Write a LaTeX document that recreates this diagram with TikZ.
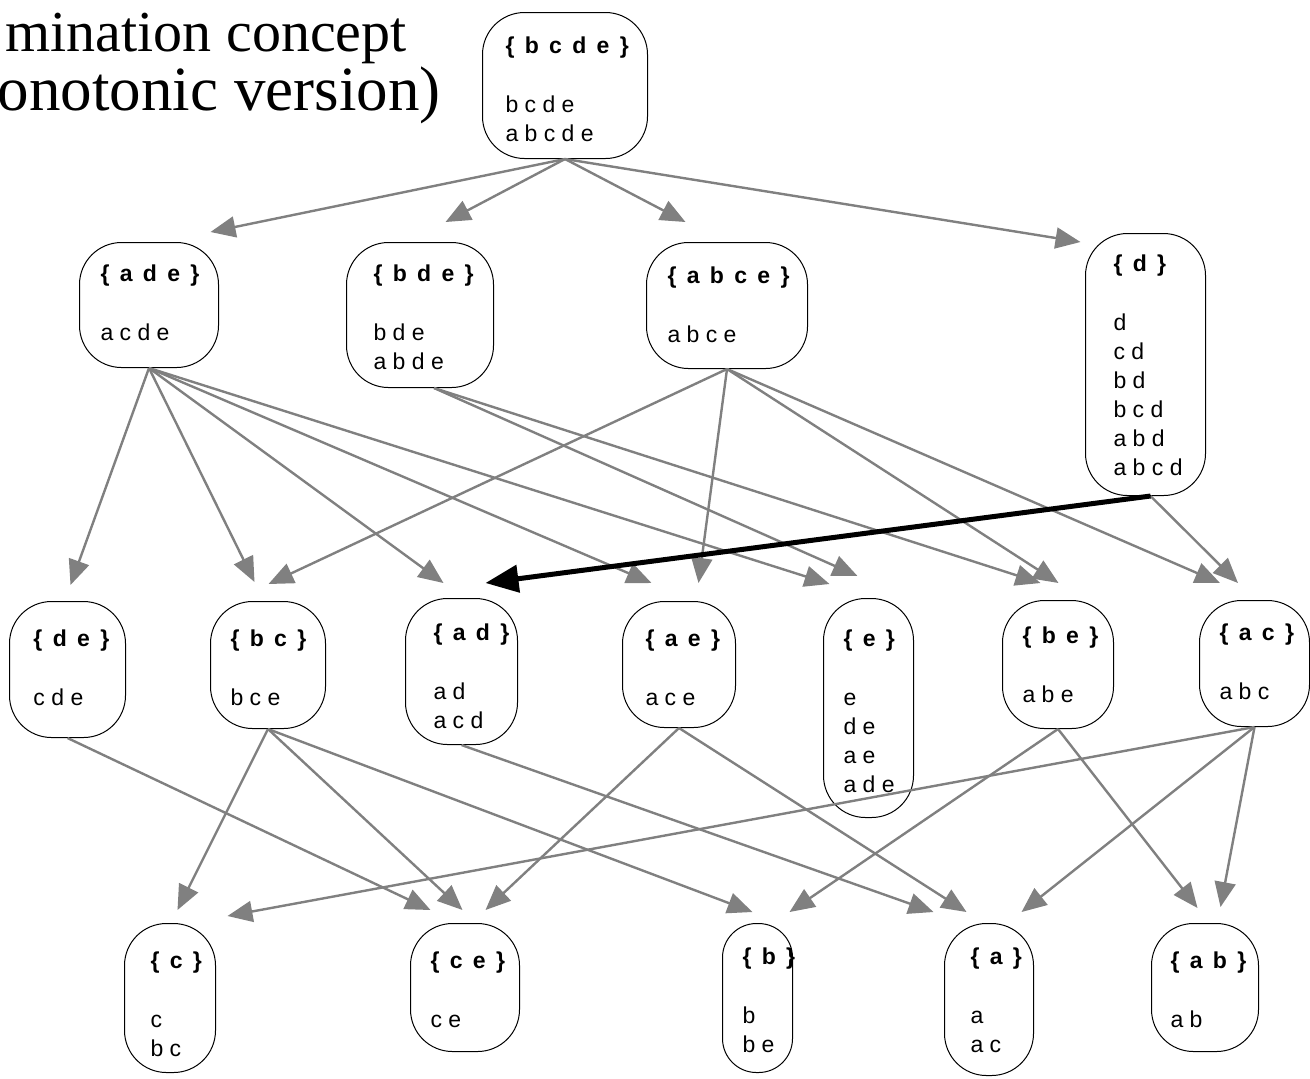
\documentclass[tikz,border=0pt]{standalone}
\usepackage{fontspec}
\setmainfont{Liberation Serif}
\newfontfamily\cptfont{Liberation Sans}
\usetikzlibrary{arrows.meta,calc}

% one pixel of the drawing grid
\newlength\px
\setlength\px{0.5pt}

% concept box body: width, height, title baseline, left pad, title, members
\newcommand\cpt[6]{%
  \parbox[c][#2\px][t]{#1\px}{%
    \setlength\leftskip{#4\px}\setlength\rightskip{-100pt plus 1fil}%
    \setlength\parindent{0pt}\setlength\parskip{0pt}%
    \lineskiplimit=-100pt
    \rule{0pt}{#3\px}\mbox{\bfseries\spaceskip=0.45em\relax\{ #5 \}}\par
    \vspace{30\px}%
    #6\par}}

\tikzset{
  concept/.style={draw=black, line width=0.5pt, rounded corners=21pt,
    inner sep=0pt, anchor=north west,
    font=\cptfont\fontsize{11.5pt}{14.5pt}\selectfont},
  narrow/.style={rounded corners=17pt},
  link/.style={draw=gray, line width=1.2pt, -{Triangle[length=12.5pt,width=10.5pt]}},
  strong/.style={draw=black, line width=2.5pt, -{Triangle[length=16.5pt,width=13.5pt]}},
  heading/.style={inner sep=0pt, anchor=base east, align=right,
    font=\fontsize{31.5pt}{27.5pt}\selectfont}
}

\begin{document}
\begin{tikzpicture}[x=0.5pt,y=-0.5pt]
\useasboundingbox (0,0) rectangle (1310,1078);

% heading, two lines (anchored at the baseline of the second line)
\node[heading] (head) at (441,110)
  {{\fontsize{29pt}{27.5pt}\selectfont mination concept}\hspace*{17pt}\\
   onotonic version)};

% top level
\node[concept] (bcde) at (482,12) {\cpt{165}{146}{41}{23}{b c d e}{b c d e\\a b c d e}};

% second level
\node[concept] (ade)  at (79,242)   {\cpt{139}{125}{39}{21}{a d e}{a c d e}};
\node[concept] (bde)  at (346,242)  {\cpt{147}{145}{39}{27}{b d e}{b d e\\a b d e}};
\node[concept] (abce) at (646,242)  {\cpt{161}{126}{41}{21}{a b c e}{a b c e}};
\node[concept] (d)    at (1085,233) {\cpt{120}{262}{38}{28}{d}{d\\c d\\b d\\b c d\\a b d\\a b c d}};

% third level
\node[concept] (de) at (9,601)    {\cpt{116}{136}{45}{24}{d e}{c d e}};
\node[concept] (bc) at (210,601)  {\cpt{115}{127}{45}{20}{b c}{b c e}};
\node[concept] (ad) at (405,598)  {\cpt{112}{146}{42}{28}{a d}{a d\\a c d}};
\node[concept] (ae) at (622,601)  {\cpt{113}{126}{45}{23}{a e}{a c e}};
\node[concept] (e)  at (823,598)  {\cpt{90}{219}{48}{20}{e}{e\\d e\\a e\\a d e}};
\node[concept] (be) at (1002,600) {\cpt{111}{128}{43}{20}{b e}{a b e}};
\node[concept] (ac) at (1199,600) {\cpt{110}{126}{40}{20}{a c}{a b c}};

% bottom level
\node[concept] (c)  at (124,923)  {\cpt{91}{149}{45}{26}{c}{c\\b c}};
\node[concept] (ce) at (410,923)  {\cpt{109}{128}{45}{20}{c e}{c e}};
\node[concept, narrow] (b) at (722,923) {\cpt{70}{149}{41}{20}{b}{b\\b e}};
\node[concept] (a)  at (944,923)  {\cpt{89}{152}{41}{26}{a}{a\\a c}};
\node[concept] (ab) at (1151,923) {\cpt{107}{128}{45}{19}{a b}{a b}};

% links from the top
\draw[link] (bcde.south) -- ($(ade.north)+(61.5,-10)$);
\draw[link] (bcde.south) -- ($(bde.north)+(25.5,-20)$);
\draw[link] (bcde.south) -- ($(abce.north)+(-41.5,-20)$);
\draw[link] (bcde.south) -- ($(d.north)+(-65,9)$);

% links from the second level
\draw[link] (ade.south) -- ($(de.north)+(3,-16)$);
\draw[link] (ade.south) -- ($(bc.north)+(-13.5,-19)$);
\draw[link] (ade.south) -- ($(ad.north)+(-18,-15)$);
\draw[link] (ade.south) -- ($(ae.north)+(-27.5,-18)$);
\draw[link] (ade.south) -- ($(e.north)+(-39,-14)$);
\draw[link] ($(bde.south)+(14,0)$) -- ($(e.north)+(-11,-22)$);
\draw[link] ($(bde.south)+(14,0)$) -- ($(be.north)+(-17.5,-17)$);
\draw[link] (abce.south) -- ($(bc.north)+(0.5,-17)$);
\draw[link] (abce.south) -- ($(ae.north)+(19.5,-18)$);
\draw[link] (abce.south) -- ($(be.north)+(0.5,-17)$);
\draw[link] (abce.south) -- ($(ac.north)+(-34.5,-17)$);
\draw[link] ($(d.south)+(5,0)$) -- ($(ac.north)+(-16.5,-17)$);
\draw[strong] ($(d.south)+(5,0)$) -- ($(ad.north)+(24,-15)$);

% links from the third level
\draw[link] (de.south) -- ($(ce.north)+(-34.5,-13)$);
\draw[link] (bc.south) -- ($(c.north)+(7.5,-13)$);
\draw[link] (bc.south) -- ($(ce.north)+(-2.5,-13)$);
\draw[link] (bc.south) -- ($(b.north)+(-5,-11)$);
\draw[link] (ad.south) -- ($(a.north)+(-55.5,-11)$);
\draw[link] (ae.south) -- ($(ce.north)+(20.5,-13)$);
\draw[link] (ae.south) -- ($(a.north)+(-22.5,-11)$);
\draw[link] (be.south) -- ($(b.north)+(32,-11)$);
\draw[link] (be.south) -- ($(ab.north)+(-7.5,-15)$);
\draw[link] (ac.south) -- ($(c.north)+(57.5,-7)$);
\draw[link] (ac.south) -- ($(a.north)+(32.5,-11)$);
\draw[link] (ac.south) -- ($(ab.north)+(15.5,-16)$);
\end{tikzpicture}
\end{document}
